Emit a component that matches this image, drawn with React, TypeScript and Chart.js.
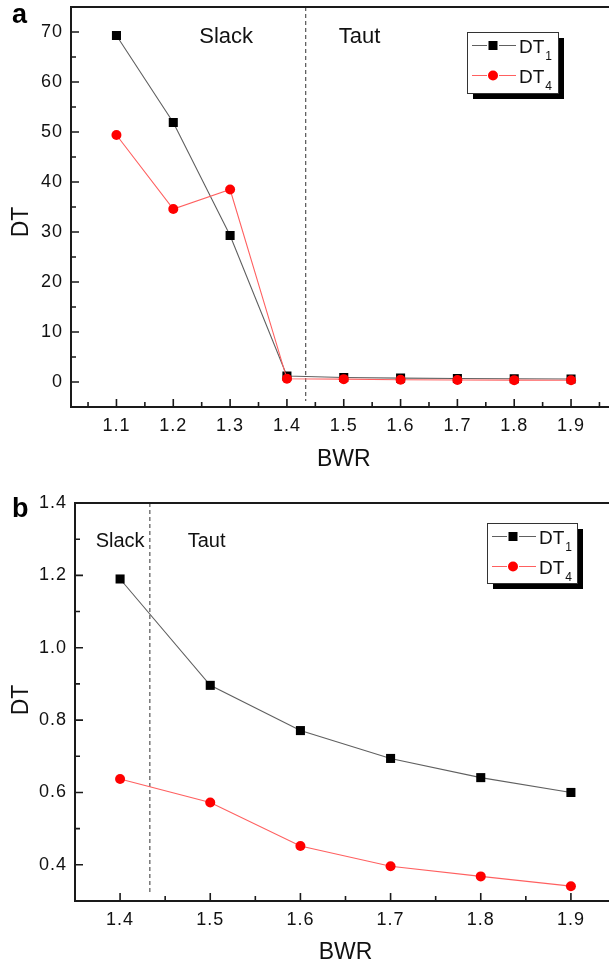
import React, { useEffect, useRef } from "react";
import { Chart, registerables } from "chart.js";

Chart.register(...registerables);

const FONT = '"Liberation Sans", Arial, Helvetica, sans-serif';

// ---------- Panel a data ----------
const bwrA = [1.1, 1.2, 1.3, 1.4, 1.5, 1.6, 1.7, 1.8, 1.9];
const dt1A = [69.3, 51.9, 29.3, 1.19, 0.9, 0.77, 0.69, 0.64, 0.6];
const dt4A = [49.4, 34.6, 38.5, 0.64, 0.57, 0.45, 0.4, 0.37, 0.34];
const xTicksA = [1.1, 1.2, 1.3, 1.4, 1.5, 1.6, 1.7, 1.8, 1.9];
const xMinorA = [1.05, 1.15, 1.25, 1.35, 1.45, 1.55, 1.65, 1.75, 1.85, 1.95];
const yTicksA = [0, 10, 20, 30, 40, 50, 60, 70];
const yMinorA = [5, 15, 25, 35, 45, 55, 65];

// ---------- Panel b data ----------
const bwrB = [1.4, 1.5, 1.6, 1.7, 1.8, 1.9];
const dt1B = [1.19, 0.896, 0.771, 0.694, 0.641, 0.6];
const dt4B = [0.637, 0.572, 0.452, 0.396, 0.368, 0.341];
const xTicksB = [1.4, 1.5, 1.6, 1.7, 1.8, 1.9];
const xMinorB = [1.45, 1.55, 1.65, 1.75, 1.85];
const yTicksB = [0.4, 0.6, 0.8, 1.0, 1.2, 1.4];
const yMinorB = [0.5, 0.7, 0.9, 1.1, 1.3];

const seriesNames = ["DT", "DT"];
const seriesSubs = ["1", "4"];
const boundaryBWR = 1.433;
const regionLabels = ["Slack", "Taut"];

type PanelSpec = {
  letter: string;
  top: number;
  width: number;
  height: number;
  xs: number[];
  s1: number[];
  s4: number[];
  xMin: number;
  xMax: number;
  yMin: number;
  yMax: number;
  xTicks: number[];
  xMinor: number[];
  yTicks: number[];
  yMinor: number[];
  yDec: number;
  padTop: number;
  padRight: number;
  yWidth: number;
  xHeight: number;
  slack: [number, number];
  taut: [number, number];
  regionFont: number;
  legend: { x: number; y: number; w: number; h: number };
  letterBase: number;
  dtY: number;
  bwrY: number;
};

const panelA: PanelSpec = {
  letter: "a",
  top: 0,
  width: 640,
  height: 478,
  xs: bwrA,
  s1: dt1A,
  s4: dt4A,
  xMin: 1.02,
  xMax: 1.98,
  yMin: -5,
  yMax: 75,
  xTicks: xTicksA,
  xMinor: xMinorA,
  yTicks: yTicksA,
  yMinor: yMinorA,
  yDec: 0,
  padTop: 7,
  padRight: 23.5,
  yWidth: 71,
  xHeight: 71,
  slack: [1.293, 69],
  taut: [1.528, 69],
  regionFont: 22,
  legend: { x: 467, y: 32, w: 91, h: 61 },
  letterBase: 23,
  dtY: 222,
  bwrY: 460,
};

const panelB: PanelSpec = {
  letter: "b",
  top: 478,
  width: 640,
  height: 488,
  xs: bwrB,
  s1: dt1B,
  s4: dt4B,
  xMin: 1.35,
  xMax: 1.95,
  yMin: 0.3,
  yMax: 1.4,
  xTicks: xTicksB,
  xMinor: xMinorB,
  yTicks: yTicksB,
  yMinor: yMinorB,
  yDec: 1,
  padTop: 25,
  padRight: 24,
  yWidth: 75,
  xHeight: 65,
  slack: [1.4, 1.295],
  taut: [1.496, 1.295],
  regionFont: 20,
  legend: { x: 487, y: 45, w: 90, h: 60 },
  letterBase: 39,
  dtY: 222,
  bwrY: 475,
};

const AXIS = "#1a1a1a";
const BLACK_LINE = "#606060";
const RED_LINE = "#ff6060";
const RED = "#ff0000";

function Panel({ p }: { p: PanelSpec }) {
  const ref = useRef<HTMLCanvasElement | null>(null);
  useEffect(() => {
    const canvas = ref.current;
    if (!canvas) return;
    const decor = {
      id: "decor",
      beforeDraw(chart: any) {
        try {
          chart.ctx.letterSpacing = "1px";
        } catch (e) {}
      },
      beforeDatasetsDraw(chart: any) {
        const { ctx, chartArea, scales } = chart;
        const x = scales.x.getPixelForValue(boundaryBWR);
        ctx.save();
        ctx.strokeStyle = "#555";
        ctx.lineWidth = 1.2;
        ctx.setLineDash([4, 3]);
        ctx.beginPath();
        ctx.moveTo(x, chartArea.top);
        ctx.lineTo(x, chartArea.bottom - 6);
        ctx.stroke();
        ctx.restore();
      },
      afterDraw(chart: any) {
        const { ctx, chartArea, scales } = chart;
        const { left, right, top, bottom } = chartArea;
        ctx.save();
        try {
          ctx.letterSpacing = "0px";
        } catch (e) {}
        // top & right frame
        ctx.strokeStyle = AXIS;
        ctx.lineWidth = 2;
        ctx.beginPath();
        ctx.moveTo(left, top);
        ctx.lineTo(right, top);
        ctx.lineTo(right, bottom);
        ctx.stroke();
        // inward ticks
        ctx.lineWidth = 1.6;
        ctx.beginPath();
        p.xTicks.forEach((v) => {
          const px = scales.x.getPixelForValue(v);
          ctx.moveTo(px, bottom);
          ctx.lineTo(px, bottom - 8);
        });
        p.xMinor.forEach((v) => {
          const px = scales.x.getPixelForValue(v);
          ctx.moveTo(px, bottom);
          ctx.lineTo(px, bottom - 5);
        });
        p.yTicks.forEach((v) => {
          const py = scales.y.getPixelForValue(v);
          ctx.moveTo(left, py);
          ctx.lineTo(left + 8, py);
        });
        p.yMinor.forEach((v) => {
          const py = scales.y.getPixelForValue(v);
          ctx.moveTo(left, py);
          ctx.lineTo(left + 5, py);
        });
        ctx.stroke();

        // region labels
        ctx.fillStyle = "#111";
        ctx.font = `${p.regionFont}px ${FONT}`;
        ctx.textAlign = "center";
        ctx.textBaseline = "middle";
        ctx.fillText(
          regionLabels[0],
          scales.x.getPixelForValue(p.slack[0]),
          scales.y.getPixelForValue(p.slack[1])
        );
        ctx.fillText(
          regionLabels[1],
          scales.x.getPixelForValue(p.taut[0]),
          scales.y.getPixelForValue(p.taut[1])
        );

        // legend
        const L = p.legend;
        ctx.fillStyle = "#000";
        ctx.fillRect(L.x + 6, L.y + 6, L.w, L.h);
        ctx.fillStyle = "#fff";
        ctx.fillRect(L.x, L.y, L.w, L.h);
        ctx.strokeStyle = "#333";
        ctx.lineWidth = 1;
        ctx.strokeRect(L.x + 0.5, L.y + 0.5, L.w, L.h);
        const rows = [L.y + 13.5, L.y + 43.5];
        rows.forEach((ry, i) => {
          ctx.strokeStyle = i === 0 ? BLACK_LINE : RED_LINE;
          ctx.lineWidth = 1.2;
          ctx.beginPath();
          ctx.moveTo(L.x + 5, ry);
          ctx.lineTo(L.x + 20, ry);
          ctx.moveTo(L.x + 32, ry);
          ctx.lineTo(L.x + 49, ry);
          ctx.stroke();
          const mx = L.x + 26;
          if (i === 0) {
            ctx.fillStyle = "#000";
            ctx.fillRect(mx - 4.5, ry - 4.5, 9, 9);
          } else {
            ctx.fillStyle = RED;
            ctx.beginPath();
            ctx.arc(mx, ry, 5, 0, Math.PI * 2);
            ctx.fill();
          }
          ctx.fillStyle = "#111";
          ctx.textAlign = "left";
          ctx.textBaseline = "alphabetic";
          ctx.font = `19px ${FONT}`;
          const tx = L.x + 52;
          ctx.fillText(seriesNames[i], tx, ry + 7);
          const tw = ctx.measureText(seriesNames[i]).width;
          ctx.font = `12px ${FONT}`;
          ctx.fillText(seriesSubs[i], tx + tw + 1, ry + 14);
        });

        // panel letter
        ctx.fillStyle = "#000";
        ctx.font = `bold 27px ${FONT}`;
        ctx.textAlign = "left";
        ctx.textBaseline = "alphabetic";
        ctx.fillText(p.letter, 12, p.letterBase);

        // axis titles
        ctx.fillStyle = "#111";
        ctx.font = `23px ${FONT}`;
        ctx.textAlign = "center";
        ctx.textBaseline = "middle";
        ctx.fillText("BWR", (left + right) / 2, p.bwrY);
        ctx.save();
        ctx.translate(22, p.dtY);
        ctx.rotate(-Math.PI / 2);
        ctx.font = `23px ${FONT}`;
        ctx.fillText("DT", 0, 0);
        ctx.restore();

        ctx.restore();
      },
    };

    const chart = new Chart(canvas, {
      type: "line",
      data: {
        datasets: [
          {
            label: "DT1",
            data: p.xs.map((x, i) => ({ x, y: p.s1[i] })),
            borderColor: BLACK_LINE,
            borderWidth: 1.1,
            pointStyle: "rect",
            pointRadius: 6.4,
            pointBackgroundColor: "#000",
            pointBorderColor: "#000",
            pointBorderWidth: 0,
            tension: 0,
            order: 1,
          },
          {
            label: "DT4",
            data: p.xs.map((x, i) => ({ x, y: p.s4[i] })),
            borderColor: RED_LINE,
            borderWidth: 1.1,
            pointStyle: "circle",
            pointRadius: 5,
            pointBackgroundColor: RED,
            pointBorderColor: RED,
            pointBorderWidth: 0,
            tension: 0,
            order: 0,
          },
        ],
      },
      options: {
        animation: false,
        responsive: false,
        devicePixelRatio: 1,
        events: [],
        layout: {
          padding: { top: p.padTop, right: p.padRight, left: 0, bottom: 0 },
        },
        plugins: {
          legend: { display: false },
          tooltip: { enabled: false },
          title: { display: false },
        },
        scales: {
          x: {
            type: "linear",
            min: p.xMin,
            max: p.xMax,
            afterBuildTicks: (s: any) => {
              s.ticks = p.xTicks.map((v) => ({ value: v }));
            },
            afterFit: (s: any) => {
              s.height = p.xHeight;
              s.paddingLeft = 0;
              s.paddingRight = 0;
              s.paddingTop = 0;
              s.paddingBottom = 0;
            },
            grid: { display: false, drawTicks: false },
            border: { display: true, color: AXIS, width: 2 },
            ticks: {
              padding: 8,
              color: "#111",
              font: { family: FONT, size: 18 },
              maxRotation: 0,
              autoSkip: false,
              callback: (v: any) => Number(v).toFixed(1),
            },
          },
          y: {
            type: "linear",
            min: p.yMin,
            max: p.yMax,
            afterBuildTicks: (s: any) => {
              s.ticks = p.yTicks.map((v) => ({ value: v }));
            },
            afterFit: (s: any) => {
              s.width = p.yWidth;
              s.paddingLeft = 0;
              s.paddingRight = 0;
              s.paddingTop = 0;
              s.paddingBottom = 0;
            },
            grid: { display: false, drawTicks: false },
            border: { display: true, color: AXIS, width: 2 },
            ticks: {
              padding: 8,
              color: "#111",
              font: { family: FONT, size: 18 },
              autoSkip: false,
              callback: (v: any) => Number(v).toFixed(p.yDec),
            },
          },
        },
      },
      plugins: [decor],
    } as any);
    return () => chart.destroy();
  }, [p]);

  return (
    <canvas
      ref={ref}
      width={p.width}
      height={p.height}
      style={{
        position: "absolute",
        left: 0,
        top: p.top,
        width: p.width,
        height: p.height,
      }}
    />
  );
}

export default function App() {
  return (
    <div
      style={{
        position: "fixed",
        left: 0,
        top: 0,
        width: 609,
        height: 966,
        overflow: "hidden",
        background: "#fff",
      }}
    >
      <Panel p={panelA} />
      <Panel p={panelB} />
    </div>
  );
}
